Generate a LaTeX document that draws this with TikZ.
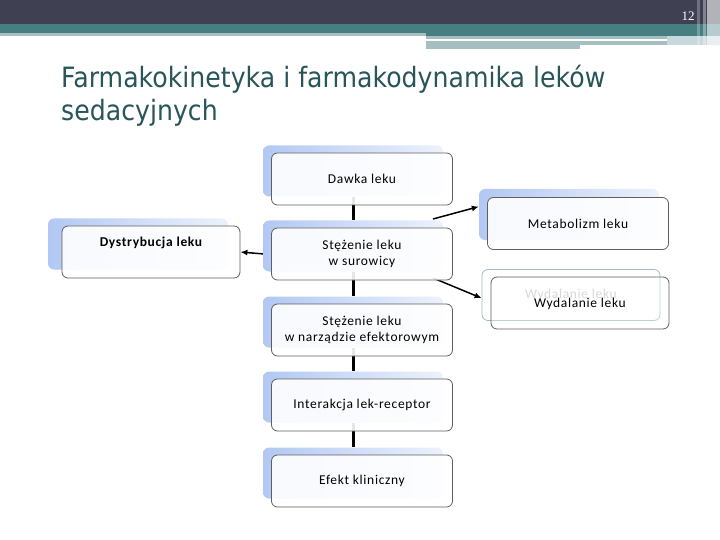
\documentclass[tikz,border=0pt]{standalone}
\usepackage{fontspec}
\setmainfont[LetterSpace=5]{Carlito}
\newfontfamily\titlefont[FakeStretch=0.9]{DejaVu Sans}
\newfontfamily\numfont{Liberation Serif}
\usetikzlibrary{arrows.meta,backgrounds}

\definecolor{topbar}{RGB}{63,65,82}
\definecolor{bandteal}{RGB}{70,126,130}
\definecolor{bandlight}{RGB}{165,190,193}
\definecolor{titlecol}{RGB}{40,85,90}
\definecolor{shadowblue}{RGB}{178,200,243}
\definecolor{shadowlight}{RGB}{236,242,252}
\definecolor{rim}{RGB}{95,95,95}
\definecolor{ghostrim}{RGB}{160,188,190}

\tikzset{
  backbox/.style={rounded corners=6pt, minimum width=180pt, minimum height=51pt,
    inner sep=0pt, left color=shadowblue, right color=shadowlight},
  ghostbox/.style={rounded corners=6pt, minimum width=178pt, minimum height=51pt,
    inner sep=0pt, fill=white, draw=ghostrim, line width=0.8pt, text=black!22,
    font=\fontsize{13.5}{16}\selectfont},
  frontbox/.style={rounded corners=6pt, minimum width=181pt, minimum height=52pt,
    draw=rim, line width=0.8pt, fill=white, fill opacity=0.9, text opacity=1,
    align=center, font=\fontsize{13.5}{16}\selectfont},
  link/.style={line width=3pt},
  pijl/.style={line width=1.5pt, -{Latex[length=7pt,width=6pt]}},
}

\begin{document}
\begin{tikzpicture}[x=1pt,y=-1pt]
    \useasboundingbox (0,0) rectangle (720,540);

    % pasek u gory slajdu
    \fill[topbar] (0,0) rectangle (720,24);
    \fill[bandteal] (0,24) rectangle (720,33);
    \fill[bandteal] (426,33) rectangle (720,36);
    \fill[bandlight] (0,33) rectangle (426,36);
    \fill[bandlight] (426,36) rectangle (667,39);
    \fill[bandlight] (426,41) rectangle (580,49);
    \fill[bandlight] (580,41) rectangle (708,45);
    \fill[bandlight!60] (667,36) rectangle (720,45);
    \fill[white,opacity=0.25] (697,0) rectangle (700,46);
    \fill[white,opacity=0.35] (703,0) rectangle (706,46);
    \fill[white,opacity=0.6] (707,0) rectangle (720,46);
    \node[text=white, font=\numfont\fontsize{13}{13}\selectfont] (nr) at (688,16) {12};

    % tytul
    \node[anchor=north west, inner sep=0pt, align=left, text=titlecol,
          font=\titlefont\fontsize{28}{33}\selectfont] (tytul) at (61,65)
          {Farmakokinetyka i farmakodynamika leków\\sedacyjnych};

    % ramki z przodu
    \node[frontbox] (dawka) at (362,179) {Dawka leku};
    \node[frontbox] (surowica) at (362,254) {Stężenie leku\\w surowicy};
    \node[frontbox] (narzad) at (362,330) {Stężenie leku\\w narządzie efektorowym};
    \node[frontbox] (interakcja) at (362,405) {Interakcja lek-receptor};
    \node[frontbox] (efekt) at (362,481) {Efekt kliniczny};
    \node[frontbox, minimum width=178pt, text depth=20pt, font=\fontsize{13.5}{16}\selectfont\bfseries]
        (dystrybucja) at (151,252) {Dystrybucja leku};
    \node[frontbox] (metabolizm) at (578,223.5) {Metabolizm leku};
    \node[frontbox, minimum width=178pt, fill opacity=0.3, text depth=1pt] (wydalanie) at (580,303) {Wydalanie leku};

    \begin{pgfonlayer}{background}
        % cienie za ramkami
        \node[backbox, xshift=-9pt, yshift=8pt] (dawkaB) at (dawka) {};
        \node[backbox, xshift=-9pt, yshift=8pt] (surowicaB) at (surowica) {};
        \node[backbox, xshift=-9pt, yshift=8pt] (narzadB) at (narzad) {};
        \node[backbox, xshift=-9pt, yshift=8pt] (interakcjaB) at (interakcja) {};
        \node[backbox, xshift=-9pt, yshift=8pt] (efektB) at (efekt) {};
        \node[backbox, xshift=-13pt, yshift=8pt] (dystrybucjaB) at (dystrybucja) {};
        \node[backbox, xshift=-9pt, yshift=9pt] (metabolizmB) at (metabolizm) {};
        \node[ghostbox, xshift=-9pt, yshift=8pt] (wydalanieB) at (wydalanie) {Wydalanie leku};

        % polaczenia
        \draw[link] (dawkaB.south) -- (surowicaB.north);
        \draw[link] (surowicaB.south) -- (narzadB.north);
        \draw[link] (narzadB.south) -- (interakcjaB.north);
        \draw[link] (interakcjaB.south) -- (efektB.north);

        % strzalki
        \coordinate (doMet) at (433,219);
        \coordinate (doWyd) at (433,278);
        \draw[pijl] (surowicaB.185) -- (dystrybucja.east);
        \draw[pijl] (doMet) -- (metabolizmB.175);
        \draw[pijl] (doWyd) -- (wydalanieB.182);
    \end{pgfonlayer}
\end{tikzpicture}
\end{document}
